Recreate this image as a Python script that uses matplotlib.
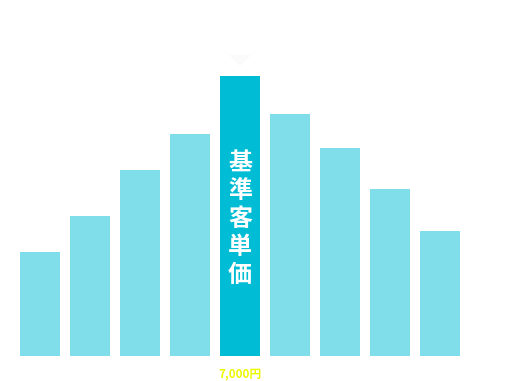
import matplotlib
matplotlib.use("Agg")
import matplotlib.pyplot as plt
from matplotlib.patches import Polygon

plt.rcParams['font.family'] = ['Noto Sans CJK JP', 'DejaVu Sans']

categories = list(range(9))
values = [104, 140, 186, 222, 280, 242, 208, 167, 125]
highlight_index = 4
highlight_label = "基準客単価"
price_label = "7,000円"

light = "#80deea"
dark = "#00bcd4"

fig = plt.figure(figsize=(5.2, 3.81), dpi=100)
ax = fig.add_axes([0, 0, 1, 1])
colors = [dark if i == highlight_index else light for i in categories]
ax.bar(categories, values, width=0.8, color=colors, linewidth=0)
ax.set_xlim(-0.8, 9.6)
ax.set_ylim(-25, 356)
ax.axis('off')

hv = values[highlight_index]
ax.text(highlight_index, hv * 0.5 - 3, "\n".join(highlight_label), ha='center', va='center',
        color='white', fontsize=17.3, fontweight='bold', linespacing=1.2)
ax.text(highlight_index, -18, price_label, ha='center', va='center',
        color='#eef800', fontsize=8.5, fontweight='bold')

# faint pointer above the highlighted bar
tri = Polygon([[highlight_index - 0.22, hv + 21], [highlight_index + 0.22, hv + 21],
               [highlight_index, hv + 10]], closed=True, color='#fafafa', linewidth=0)
ax.add_patch(tri)

fig.savefig("out.png", dpi=100)
